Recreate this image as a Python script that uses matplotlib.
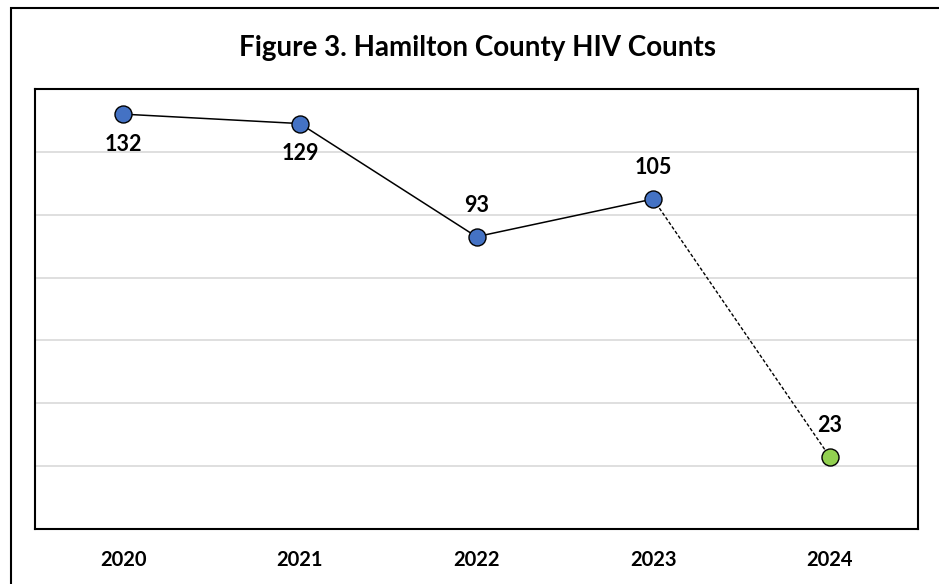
import matplotlib
matplotlib.use("Agg")
from matplotlib import pyplot as plt
from matplotlib.patches import Rectangle

plt.rcParams['font.family'] = ['Lato', 'DejaVu Sans']

# data
years = ['2020', '2021', '2022', '2023', '2024']
counts = [132, 129, 93, 105, 23]
label_pos = ['below', 'below', 'above', 'above', 'above']

fig = plt.figure(figsize=(9.39, 5.84), dpi=100)
ax = fig.add_axes([35/939, 1-529/584, (918-35)/939, (529-89)/584])

x = list(range(len(years)))

# solid line for final years, dashed to the provisional year
ax.plot(x[:4], counts[:4], color='black', lw=1.1, zorder=2)
ax.plot(x[3:], counts[3:], color='black', lw=1.0, ls=(0, (2.5, 1.5)), zorder=2)
ax.scatter(x[:4], counts[:4], s=150, color='#4472C4', edgecolor='black', linewidth=1.0, zorder=3)
ax.scatter(x[4:], counts[4:], s=150, color='#92D050', edgecolor='black', linewidth=1.0, zorder=3)

for xi, v, pos in zip(x, counts, label_pos):
    dy = -30 if pos == 'below' else 31
    ax.annotate(str(v), (xi, v), xytext=(0, dy), textcoords='offset pixels',
                ha='center', va='center', fontsize=15.5, fontweight='bold')

ax.set_xlim(-0.5, 4.5)
ax.set_ylim(0, 140)
ax.set_yticks([20, 40, 60, 80, 100, 120])
ax.set_yticklabels([])
ax.tick_params(axis='y', length=0)
ax.grid(axis='y', color='#d9d9d9', lw=1.2)
ax.set_axisbelow(True)
ax.set_xticks(x)
ax.set_xticklabels(years, fontsize=14.5, fontweight='bold')
ax.tick_params(axis='x', length=0, pad=15)
for s in ax.spines.values():
    s.set_color('black')
    s.set_linewidth(1.5)

fig.text(477/939, 1-48/584, 'Figure 3. Hamilton County HIV Counts', ha='center', va='center',
         fontsize=20, fontweight='bold')

# outer chart border
fig.patches.append(Rectangle((11/939, -0.02), 1.0, 1.02 - 8/584, transform=fig.transFigure,
                             fill=False, edgecolor='black', lw=1.5))

fig.savefig('out.png', dpi=100)
